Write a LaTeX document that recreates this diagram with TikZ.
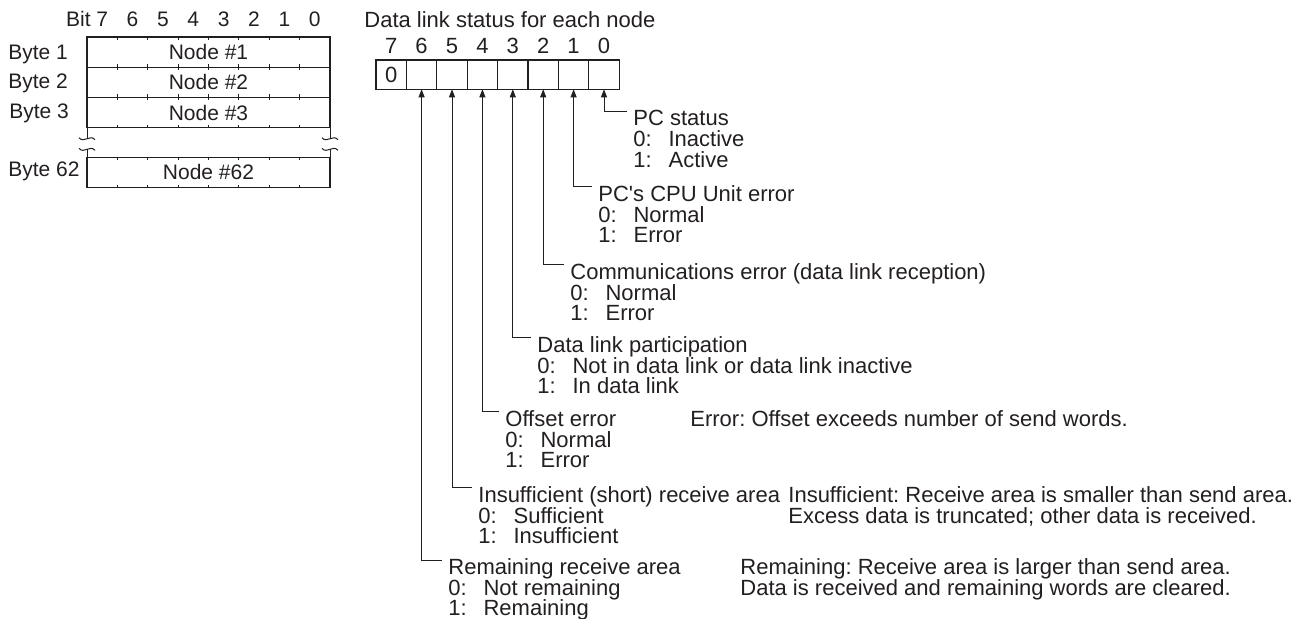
\documentclass[tikz,border=0pt]{standalone}
\usepackage{fontspec}
\setmainfont{Liberation Sans}
\usetikzlibrary{arrows.meta,positioning,calc}
\definecolor{ink}{HTML}{231F20}
\newcommand\optline[2]{\makebox[1.6em][l]{#1:}#2}
\frenchspacing

\begin{document}
\begin{tikzpicture}[x=0.5pt,y=-0.5pt,
    t/.style={inner sep=0pt,text=ink,font=\fontsize{11}{10.4}\selectfont,align=left},
    s/.style={inner sep=0pt,text=ink,font=\fontsize{10.5}{12}\selectfont},
    row/.style={s,draw=ink,line width=0.6pt,outer sep=0pt,minimum width=121.5pt,minimum height=15.125pt,
      path picture={\foreach \i in {1,...,7}{
        \draw[ink,line width=0.5pt] ($(path picture bounding box.north west)!\i/8!(path picture bounding box.north east)$) -- ++(0,3);
        \draw[ink,line width=0.5pt] ($(path picture bounding box.south west)!\i/8!(path picture bounding box.south east)$) -- ++(0,-3);}}},
    gap/.style={outer sep=0pt,inner sep=0pt,minimum width=121.5pt,minimum height=14.8pt},
    cell/.style={draw=ink,line width=0.6pt,outer sep=0pt,inner sep=0pt,minimum width=15.2pt,
      minimum height=14.65pt,text=ink,font=\fontsize{11}{12}\selectfont},
    bit/.style={label={[t,label distance=3pt]above:#1}},
    a/.style={-{Triangle[length=4pt,width=3pt]},line width=0.5pt,ink},
    brk/.style={ink,line width=0.5pt}]
    \useasboundingbox (0,0) rectangle (1300,619);
    % byte table
    \node[row,anchor=north west] (r1) at (87,37) {Node \#1};
    \node[row,below=0pt of r1] (r2) {Node \#2};
    \node[row,below=0pt of r2] (r3) {Node \#3};
    \node[gap,below=0pt of r3] (rg) {};
    \node[row,below=0pt of rg] (r62) {\raisebox{-1.5pt}{Node \#62}};
    \node[s,anchor=base west] (y1) at (8,60) {Byte 1};
    \node[s,anchor=base west] (y2) at (8,89) {Byte 2};
    \node[s,anchor=base west] (y3) at (9,119) {Byte 3};
    \node[s,anchor=base west] (y62) at (8,177) {Byte 62};
    \node[s,anchor=base east] (bt) at (91,27) {Bit};
    \foreach \b [count=\k from 0] in {7,...,0}
      \node[s,anchor=base] (h\b) at (102.2+30.375*\k,27) {\b};
    \draw[brk] (r3.south west) -- ++(0,11) (r62.north west) -- ++(0,-8)
      (r3.south east) -- ++(0,11) (r62.north east) -- ++(0,-8);
    \draw[brk] ($(r3.south west)+(-8,10)$) .. controls +(5,6) and +(-5,-6) .. ++(16,2);
    \draw[brk] ($(r62.north west)+(-8,-9)$) .. controls +(5,6) and +(-5,-6) .. ++(16,2);
    \draw[brk] ($(r3.south east)+(-8,10)$) .. controls +(5,6) and +(-5,-6) .. ++(16,2);
    \draw[brk] ($(r62.north east)+(-8,-9)$) .. controls +(5,6) and +(-5,-6) .. ++(16,2);
    % status byte
    \node[t,anchor=west] (ttl) at (364,20) {Data link status for each node};
    \node[cell,bit=7,anchor=north west] (b7) at (376,60) {0};
    \node[cell,bit=6,right=0pt of b7] (b6) {};
    \node[cell,bit=5,right=0pt of b6] (b5) {};
    \node[cell,bit=4,right=0pt of b5] (b4) {};
    \node[cell,bit=3,right=0pt of b4] (b3) {};
    \node[cell,bit=2,right=0pt of b3] (b2) {};
    \node[cell,bit=1,right=0pt of b2] (b1) {};
    \node[cell,bit=0,right=0pt of b1] (b0) {};
    % bit meanings
    \node[t,anchor=north west] (d0) at (633,110) {PC status\\\optline{0}{Inactive}\\\optline{1}{Active}};
    \node[t,anchor=north west] (d1) at (598,185) {PC\textquotesingle s CPU Unit error\\\optline{0}{Normal}\\\optline{1}{Error}};
    \node[t,anchor=north west] (d2) at (570,263) {Communications error (data link reception)\\\optline{0}{Normal}\\\optline{1}{Error}};
    \node[t,anchor=north west] (d3) at (537,336) {Data link participation\\\optline{0}{Not in data link or data link inactive}\\\optline{1}{In data link}};
    \node[t,anchor=north west] (d4) at (505,410) {Offset error\\\optline{0}{Normal}\\\optline{1}{Error}};
    \node[t,anchor=north west] (d5) at (478,486) {Insufficient (short) receive area\\\optline{0}{Sufficient}\\\optline{1}{Insufficient}};
    \node[t,anchor=north west] (d6) at (448,558) {Remaining receive area\\\optline{0}{Not remaining}\\\optline{1}{Remaining}};
    \node[t,anchor=north west] (e4) at (690,410) {Error: Offset exceeds number of send words.};
    \node[t,anchor=north west] (e5) at (788,486) {Insufficient: Receive area is smaller than send area.\\Excess data is truncated; other data is received.};
    \node[t,anchor=north west] (e6) at (740,558) {Remaining: Receive area is larger than send area.\\Data is received and remaining words are cleared.};
    \draw[a] ([shift={(-6,2)}]d0.north west) -| (b0.south);
    \draw[a] ([shift={(-6,2)}]d1.north west) -| (b1.south);
    \draw[a] ([shift={(-6,2)}]d2.north west) -| (b2.south);
    \draw[a] ([shift={(-6,2)}]d3.north west) -| (b3.south);
    \draw[a] ([shift={(-6,2)}]d4.north west) -| (b4.south);
    \draw[a] ([shift={(-6,2)}]d5.north west) -| (b5.south);
    \draw[a] ([shift={(-6,2)}]d6.north west) -| (b6.south);
\end{tikzpicture}
\end{document}
